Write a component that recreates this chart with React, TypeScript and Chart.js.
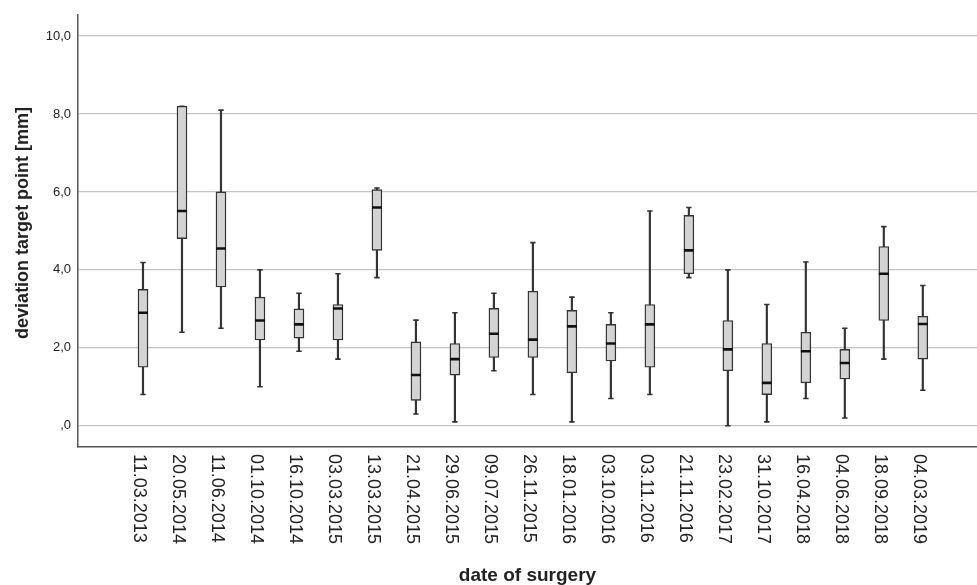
import React, { useEffect, useRef } from "react";
import { Chart, registerables } from "chart.js";

Chart.register(...registerables);

const dates = [
  "11.03.2013", "20.05.2014", "11.06.2014", "01.10.2014", "16.10.2014",
  "03.03.2015", "13.03.2015", "21.04.2015", "29.06.2015", "09.07.2015",
  "26.11.2015", "18.01.2016", "03.10.2016", "03.11.2016", "21.11.2016",
  "23.02.2017", "31.10.2017", "16.04.2018", "04.06.2018", "18.09.2018",
  "04.03.2019",
];
const mins = [0.80, 2.40, 2.50, 1.00, 1.91, 1.71, 3.80, 0.30, 0.10, 1.41, 0.80, 0.10, 0.70, 0.80, 3.80, 0.00, 0.10, 0.70, 0.20, 1.71, 0.91];
const q1s = [1.50, 4.80, 3.56, 2.20, 2.25, 2.20, 4.50, 0.65, 1.30, 1.75, 1.75, 1.36, 1.66, 1.50, 3.90, 1.41, 0.80, 1.10, 1.20, 2.70, 1.71];
const medians = [2.90, 5.51, 4.55, 2.70, 2.60, 3.01, 5.60, 1.30, 1.71, 2.36, 2.21, 2.55, 2.11, 2.60, 4.50, 1.96, 1.10, 1.91, 1.61, 3.90, 2.61];
const q3s = [3.50, 8.20, 6.00, 3.30, 3.00, 3.11, 6.06, 2.15, 2.11, 3.01, 3.45, 2.96, 2.60, 3.11, 5.40, 2.70, 2.11, 2.40, 1.96, 4.60, 2.81];
const maxs = [4.19, 8.20, 8.10, 4.00, 3.40, 3.90, 6.10, 2.71, 2.90, 3.40, 4.70, 3.30, 2.90, 5.51, 5.60, 4.00, 3.11, 4.20, 2.50, 5.11, 3.60];
const yTicks = [0, 2, 4, 6, 8, 10];
const yTitle = "deviation target point [mm]";
const xTitle = "date of surgery";

const FONT = "'Liberation Sans', Arial, sans-serif";

const labelPlugin = {
  id: "customLabels",
  afterDraw(chart: any) {
    const ctx = chart.ctx;
    const xs = chart.scales.x;
    const area = chart.chartArea;
    ctx.save();
    ctx.font = `18px ${FONT}`;
    ctx.fillStyle = "#222";
    ctx.textAlign = "left";
    ctx.textBaseline = "middle";
    dates.forEach((d, i) => {
      const x = xs.getPixelForValue(i) - 4;
      ctx.save();
      ctx.translate(x, area.bottom + 7);
      ctx.rotate(Math.PI / 2);
      ctx.fillText(d, 0, 0);
      ctx.restore();
    });
    ctx.font = `bold 18px ${FONT}`;
    ctx.textAlign = "center";
    ctx.save();
    ctx.translate(23, (area.top + area.bottom) / 2 - 8);
    ctx.rotate(-Math.PI / 2);
    ctx.fillText(yTitle, 0, 0);
    ctx.restore();
    ctx.restore();
  },
};

export default function App() {
  const ref = useRef<HTMLCanvasElement>(null);
  useEffect(() => {
    if (!ref.current) return;
    const idx = dates.map((_, i) => i);
    const chart = new Chart(ref.current, {
      type: "bar",
      data: {
        datasets: [
          {
            type: "bar",
            data: idx.map((i) => ({ x: i, y: [mins[i], maxs[i]] })),
            backgroundColor: "#333",
            barThickness: 1.5,
            grouped: false,
            order: 3,
          } as any,
          {
            type: "bar",
            data: idx.map((i) => ({ x: i, y: [q1s[i], q3s[i]] })),
            backgroundColor: "#d3d3d3",
            borderColor: "#333",
            borderWidth: 1.4,
            borderSkipped: false,
            barThickness: 10,
            grouped: false,
            order: 2,
          } as any,
          {
            type: "scatter",
            data: idx.flatMap((i) => [
              { x: i, y: mins[i] },
              { x: i, y: maxs[i] },
            ]),
            pointStyle: "line",
            pointRadius: 2.7,
            borderColor: "#333",
            borderWidth: 1.6,
            order: 1,
          } as any,
          {
            type: "scatter",
            data: idx.map((i) => ({ x: i, y: medians[i] })),
            pointStyle: "line",
            pointRadius: 5,
            borderColor: "#111",
            borderWidth: 2.6,
            order: 0,
          } as any,
        ],
      },
      options: {
        animation: false,
        responsive: false,
        layout: { autoPadding: false, padding: { top: 14, left: 0, right: 0, bottom: 0 } },
        plugins: { legend: { display: false }, tooltip: { enabled: false } },
        scales: {
          x: {
            type: "linear",
            offset: false,
            min: -1.667,
            max: 21.39,
            grid: { display: false, offset: false },
            border: { display: true, color: "#555", width: 1.5 },
            ticks: { display: false },
            title: {
              display: true,
              text: xTitle,
              color: "#222",
              font: { family: FONT, size: 19, weight: "bold", lineHeight: 1 },
              padding: { top: 0, bottom: 0 },
            },
            afterFit: (s: any) => {
              s.height = 138;
            },
          },
          y: {
            type: "linear",
            min: -0.546,
            max: 10.546,
            afterBuildTicks: (s: any) => {
              s.ticks = yTicks.map((v) => ({ value: v }));
            },
            grid: { color: "#c4c4c4", lineWidth: 1.2, drawTicks: false },
            border: { display: true, color: "#555", width: 1.5 },
            ticks: {
              padding: 7,
              color: "#222",
              font: { family: FONT, size: 13 },
              callback: (v: any) => (v === 0 ? ",0" : Number(v).toFixed(1).replace(".", ",")),
            },
            title: { display: false },
            afterFit: (s: any) => {
              s.width = 78;
            },
          },
        },
      },
      plugins: [labelPlugin],
    });
    return () => chart.destroy();
  }, []);
  return (
    <div style={{ position: "absolute", left: 0, top: 0, width: 977, height: 585, background: "#fff" }}>
      <canvas ref={ref} width={977} height={585} style={{ display: "block" }} />
    </div>
  );
}
